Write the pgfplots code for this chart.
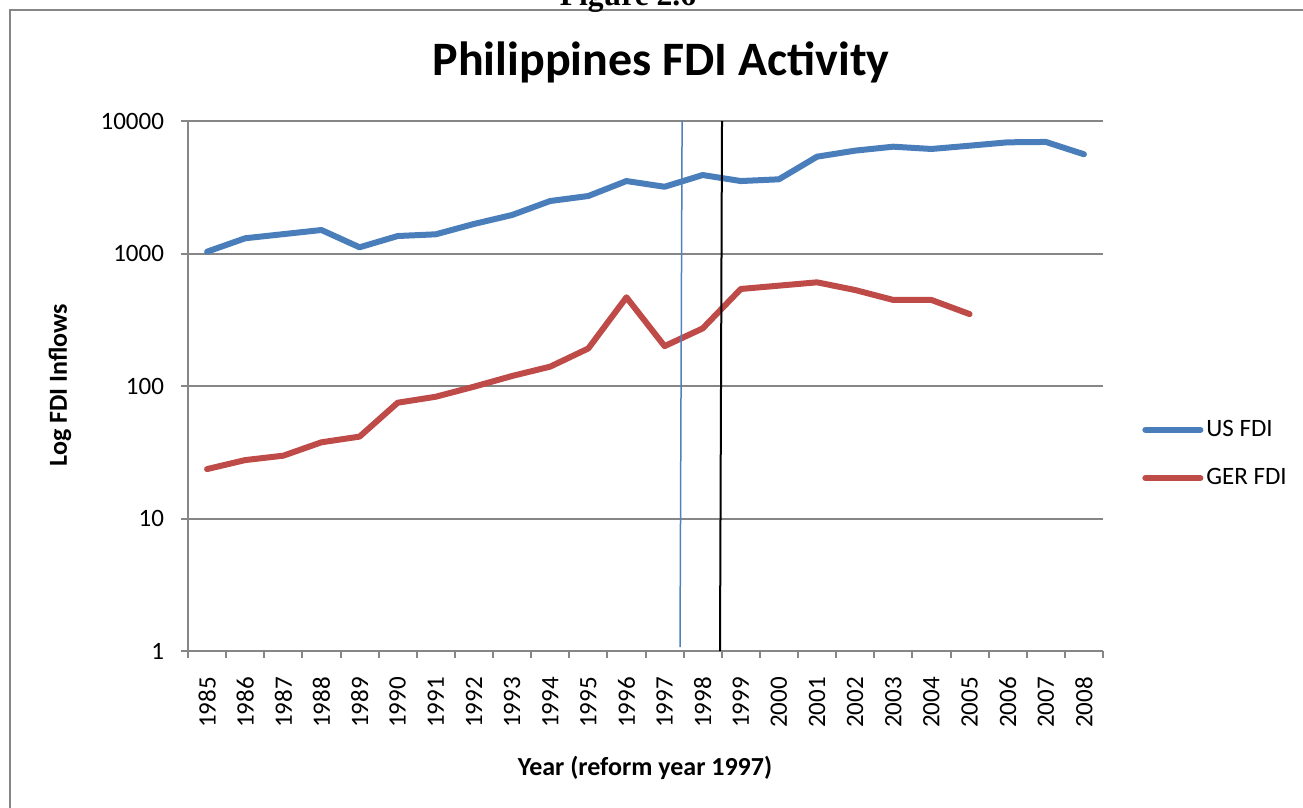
\documentclass[border=0pt]{standalone}
\usepackage{pgfplots}
\pgfplotsset{compat=1.18}
\usepackage{fontspec}
\setmainfont{Carlito}
\newfontfamily\timesfont{Liberation Serif}
\definecolor{usblue}{HTML}{4A7EBB}
\definecolor{gerred}{HTML}{BE4B48}
\definecolor{axgray}{HTML}{868686}
\definecolor{refblue}{HTML}{4F81BD}

\pgfplotstableread{
x us
0 1032
1 1303
2 1400
3 1504
4 1114
5 1355
6 1396
7 1671
8 1953
9 2490
10 2716
11 3523
12 3190
13 3911
14 3523
15 3631
16 5380
17 5976
18 6400
19 6150
20 6510
21 6905
22 6950
23 5610
}\ustable

\pgfplotstableread{
x ger
0 23.6
1 27.6
2 29.8
3 37.6
4 41.5
5 74.8
6 83
7 98.8
8 119
9 140
10 192
11 467
12 200
13 272
14 540
15 572
16 606
17 530
18 446
19 446
20 349
}\gertable

\begin{document}
\begin{tikzpicture}
\useasboundingbox (0,0) rectangle (651.5pt,-404pt);
\clip (0,0) rectangle (651.5pt,-404pt);
\draw[axgray, line width=1pt] (5pt,-5pt) rectangle (700pt,-450pt);
\node[font=\timesfont\bfseries\fontsize{15.8}{18}\selectfont, anchor=base] at (314pt,-2.75pt) {Figure 2.6};
\node[font=\bfseries\fontsize{24}{28}\selectfont, anchor=base] at (330.5pt,-38pt) {Philippines FDI Activity};
\node[font=\bfseries\fontsize{13}{15}\selectfont, rotate=90] at (30pt,-192.5pt) {Log FDI Inflows};
\node[font=\bfseries\fontsize{13}{15}\selectfont] at (322.5pt,-384pt) {Year (reform year 1997)};
\begin{axis}[
  at={(94pt,-325.5pt)}, anchor=south west,
  scale only axis, width=457.5pt, height=265pt,
  ymode=log, ymin=1, ymax=10000,
  xmin=-0.5, xmax=23.5,
  axis x line*=bottom, axis y line*=left,
  axis line style={-, axgray, line width=1pt},
  /pgf/number format/assume math mode=true,
  tick align=outside, major tick length=3.5pt,
  tick style={axgray, line width=1pt},
  ytick={1,10,100,1000,10000},
  yticklabels={1,10,100,1000,10000},
  yminorticks=false,
  yticklabel style={font=\fontsize{12.5}{14}\selectfont, anchor=east},
  yticklabel shift=5pt,
  ymajorgrids, grid style={axgray, line width=1pt},
  xtick={-0.5,0.5,...,23.5},
  xticklabels={},
  extra x ticks={0,1,...,23},
  extra x tick labels={1985,1986,1987,1988,1989,1990,1991,1992,1993,1994,1995,1996,1997,1998,1999,2000,2001,2002,2003,2004,2005,2006,2007,2008},
  extra x tick style={major tick length=0pt, grid=none},
  xticklabel style={font=\fontsize{12.5}{14}\selectfont, rotate=90, anchor=east},
  xticklabel shift=9.5pt,
  legend style={draw=none, fill=none, at={(axis description cs:1.0426,0.3717)}, anchor=west,
    font=\fontsize{12.5}{14}\selectfont, inner sep=0pt, row sep=11.5pt,
    nodes={inner sep=1.5pt}},
  legend cell align=left,
  legend image code/.code={\draw[#1, line cap=round] (0pt,0pt) -- (27.5pt,0pt);},
]
\addplot[usblue, line width=3pt, line cap=round, line join=round] table[x=x,y=us] {\ustable};
\addlegendentry{US FDI}
\addplot[gerred, line width=3pt, line cap=round, line join=round] table[x=x,y=ger] {\gertable};
\addlegendentry{GER FDI}
\addplot[refblue, line width=0.75pt, forget plot] coordinates {(12.46,10000) (12.405,1.07)};
\addplot[black, line width=1pt, forget plot] coordinates {(13.507,10000) (13.454,1)};
\end{axis}
\end{tikzpicture}
\end{document}
